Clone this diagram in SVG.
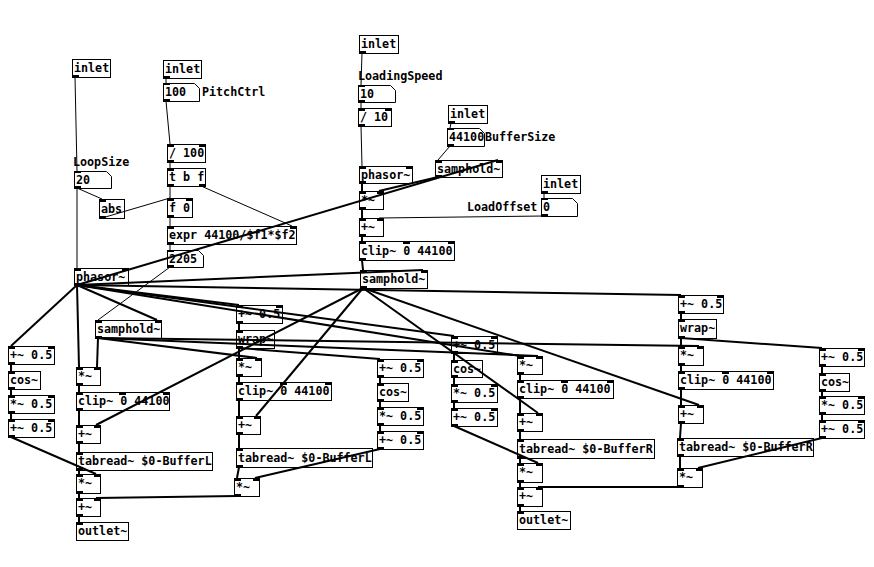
<svg xmlns="http://www.w3.org/2000/svg" width="874" height="567" viewBox="0 0 874 567">
<style>
.b{fill:none;stroke:#000;stroke-width:1}
.io{fill:#000}
.t{font-family:"DejaVu Sans Mono","Liberation Mono",monospace;font-size:11.7px;font-weight:bold;fill:#000}
.s{stroke:#000;stroke-width:2;fill:none}
.c{stroke:#000;stroke-width:1;fill:none}
</style>
<rect width="874" height="567" fill="#fff"/>
<g id="connectors">
<g class="c">
<line x1="75" y1="77" x2="77" y2="171"/>
<line x1="77" y1="188" x2="77" y2="268"/>
<line x1="77" y1="188" x2="102" y2="199"/>
<line x1="102" y1="218" x2="170" y2="198"/>
<line x1="166" y1="78" x2="166" y2="83"/>
<line x1="166" y1="101" x2="170" y2="144"/>
<line x1="170" y1="162" x2="170" y2="168"/>
<line x1="170" y1="186" x2="170" y2="198"/>
<line x1="201" y1="186" x2="292" y2="226"/>
<line x1="170" y1="217" x2="170" y2="226"/>
<line x1="170" y1="244" x2="170" y2="250"/>
<line x1="170" y1="267" x2="98" y2="320"/>
<line x1="362" y1="53" x2="361" y2="85"/>
<line x1="361" y1="102" x2="361" y2="108"/>
<line x1="361" y1="126" x2="362" y2="166"/>
<line x1="451" y1="123" x2="450" y2="128"/>
<line x1="450" y1="146" x2="438" y2="160"/>
<line x1="544" y1="193" x2="544" y2="198"/>
<line x1="544" y1="216" x2="379" y2="218"/>
</g>
<g class="s">
<line x1="362" y1="183" x2="362" y2="191"/>
<line x1="438" y1="177" x2="379" y2="191"/>
<line x1="362" y1="209" x2="362" y2="218"/>
<line x1="362" y1="236" x2="362" y2="241"/>
<line x1="362" y1="260" x2="363" y2="270"/>
<line x1="77" y1="285" x2="498" y2="160"/>
<line x1="77" y1="285" x2="423" y2="270"/>
<line x1="77" y1="285" x2="11" y2="346"/>
<line x1="77" y1="285" x2="79" y2="367"/>
<line x1="77" y1="285" x2="157" y2="320"/>
<line x1="77" y1="285" x2="239" y2="305"/>
<line x1="77" y1="285" x2="454" y2="336"/>
<line x1="77" y1="285" x2="520" y2="356"/>
<line x1="77" y1="285" x2="681" y2="295"/>
<line x1="98" y1="338" x2="97" y2="367"/>
<line x1="98" y1="338" x2="257" y2="358"/>
<line x1="98" y1="338" x2="538" y2="356"/>
<line x1="98" y1="338" x2="699" y2="346"/>
<line x1="363" y1="288" x2="96" y2="425"/>
<line x1="363" y1="288" x2="256" y2="416"/>
<line x1="363" y1="288" x2="538" y2="413"/>
<line x1="363" y1="288" x2="699" y2="405"/>
<line x1="11" y1="364" x2="11" y2="371"/>
<line x1="11" y1="389" x2="11" y2="395"/>
<line x1="11" y1="413" x2="11" y2="419"/>
<line x1="11" y1="437" x2="96" y2="474"/>
<line x1="79" y1="385" x2="79" y2="392"/>
<line x1="79" y1="410" x2="79" y2="425"/>
<line x1="79" y1="443" x2="79" y2="452"/>
<line x1="79" y1="470" x2="79" y2="474"/>
<line x1="79" y1="493" x2="79" y2="498"/>
<line x1="79" y1="516" x2="79" y2="522"/>
<line x1="237" y1="496" x2="96" y2="498"/>
<line x1="239" y1="323" x2="239" y2="330"/>
<line x1="239" y1="348" x2="239" y2="358"/>
<line x1="239" y1="348" x2="380" y2="359"/>
<line x1="239" y1="376" x2="239" y2="382"/>
<line x1="239" y1="400" x2="239" y2="416"/>
<line x1="239" y1="434" x2="239" y2="448"/>
<line x1="239" y1="467" x2="237" y2="478"/>
<line x1="380" y1="377" x2="380" y2="383"/>
<line x1="380" y1="401" x2="380" y2="407"/>
<line x1="380" y1="425" x2="380" y2="431"/>
<line x1="380" y1="449" x2="255" y2="478"/>
<line x1="454" y1="353" x2="454" y2="360"/>
<line x1="454" y1="377" x2="454" y2="384"/>
<line x1="454" y1="402" x2="454" y2="408"/>
<line x1="454" y1="426" x2="538" y2="463"/>
<line x1="520" y1="374" x2="520" y2="380"/>
<line x1="520" y1="398" x2="520" y2="413"/>
<line x1="520" y1="431" x2="520" y2="439"/>
<line x1="520" y1="458" x2="520" y2="463"/>
<line x1="520" y1="482" x2="520" y2="487"/>
<line x1="520" y1="506" x2="520" y2="511"/>
<line x1="680" y1="487" x2="538" y2="487"/>
<line x1="681" y1="313" x2="681" y2="319"/>
<line x1="681" y1="338" x2="681" y2="346"/>
<line x1="681" y1="338" x2="822" y2="348"/>
<line x1="681" y1="365" x2="681" y2="371"/>
<line x1="681" y1="389" x2="681" y2="405"/>
<line x1="681" y1="423" x2="680" y2="438"/>
<line x1="680" y1="456" x2="680" y2="468"/>
<line x1="822" y1="366" x2="822" y2="373"/>
<line x1="822" y1="391" x2="822" y2="396"/>
<line x1="822" y1="414" x2="822" y2="420"/>
<line x1="822" y1="438" x2="698" y2="468"/>
</g>
</g>

<g id="b1"><rect class="b" x="72.5" y="59.5" width="38" height="18"/><rect class="io" x="72" y="75" width="7" height="3"/><text class="t" x="74" y="72">inlet</text></g>
<g id="b2"><rect class="b" x="163.5" y="60.5" width="38" height="18"/><rect class="io" x="163" y="76" width="7" height="3"/><text class="t" x="165" y="73">inlet</text></g>
<g id="b3"><path class="b" d="M163.5,83.5H194.5L199.5,88.5V101.5H163.5Z"/><rect class="io" x="163" y="83" width="7" height="2"/><rect class="io" x="163" y="99" width="7" height="3"/><text class="t" x="165" y="96">100</text><text class="t" x="202" y="96">PitchCtrl</text></g>
<g id="b4"><rect class="b" x="167.5" y="144.5" width="38" height="18"/><rect class="io" x="167" y="144" width="7" height="3"/><rect class="io" x="199" y="144" width="7" height="3"/><rect class="io" x="167" y="160" width="7" height="3"/><text class="t" x="169" y="157">/ 100</text></g>
<g id="b5"><rect class="b" x="167.5" y="168.5" width="38" height="18"/><rect class="io" x="167" y="168" width="7" height="3"/><rect class="io" x="167" y="184" width="7" height="3"/><rect class="io" x="199" y="184" width="7" height="3"/><text class="t" x="169" y="181">t b f</text></g>
<g id="b6"><path class="b" d="M74.5,171.5H106.5L111.5,176.5V188.5H74.5Z"/><rect class="io" x="74" y="171" width="7" height="2"/><rect class="io" x="74" y="186" width="7" height="3"/><text class="t" x="76" y="184">20</text><text class="t" x="73" y="166">LoopSize</text></g>
<g id="b7"><rect class="b" x="99.5" y="199.5" width="25" height="19"/><rect class="io" x="99" y="199" width="7" height="3"/><rect class="io" x="99" y="216" width="7" height="3"/><text class="t" x="101" y="213">abs</text></g>
<g id="b8"><rect class="b" x="167.5" y="198.5" width="25" height="19"/><rect class="io" x="167" y="198" width="7" height="3"/><rect class="io" x="186" y="198" width="7" height="3"/><rect class="io" x="167" y="215" width="7" height="3"/><text class="t" x="169" y="212">f 0</text></g>
<g id="b9"><rect class="b" x="167.5" y="226.5" width="129" height="18"/><rect class="io" x="167" y="226" width="7" height="3"/><rect class="io" x="290" y="226" width="7" height="3"/><rect class="io" x="167" y="242" width="7" height="3"/><text class="t" x="169" y="239">expr 44100/$f1*$f2</text></g>
<g id="b10"><path class="b" d="M167.5,250.5H198.5L203.5,255.5V267.5H167.5Z"/><rect class="io" x="167" y="250" width="7" height="2"/><rect class="io" x="167" y="265" width="7" height="3"/><text class="t" x="169" y="263">2205</text></g>
<g id="b11"><rect class="b" x="74.5" y="268.5" width="54" height="17"/><rect class="io" x="74" y="268" width="7" height="3"/><rect class="io" x="122" y="268" width="7" height="3"/><rect class="io" x="74" y="283" width="7" height="3"/><text class="t" x="76" y="281">phasor~</text></g>
<g id="b12"><rect class="b" x="359.5" y="35.5" width="39" height="18"/><rect class="io" x="359" y="51" width="7" height="3"/><text class="t" x="361" y="48">inlet</text></g>
<g id="b13"><path class="b" d="M358.5,85.5H390.5L395.5,90.5V102.5H358.5Z"/><rect class="io" x="358" y="85" width="7" height="2"/><rect class="io" x="358" y="100" width="7" height="3"/><text class="t" x="360" y="98">10</text><text class="t" x="358" y="80">LoadingSpeed</text></g>
<g id="b14"><rect class="b" x="358.5" y="108.5" width="33" height="18"/><rect class="io" x="358" y="108" width="7" height="3"/><rect class="io" x="385" y="108" width="7" height="3"/><rect class="io" x="358" y="124" width="7" height="3"/><text class="t" x="360" y="121">/ 10</text></g>
<g id="b15"><rect class="b" x="359.5" y="166.5" width="53" height="17"/><rect class="io" x="359" y="166" width="7" height="3"/><rect class="io" x="406" y="166" width="7" height="3"/><rect class="io" x="359" y="181" width="7" height="3"/><text class="t" x="361" y="179">phasor~</text></g>
<g id="b16"><rect class="b" x="359.5" y="191.5" width="24" height="18"/><rect class="io" x="359" y="191" width="7" height="3"/><rect class="io" x="377" y="191" width="7" height="3"/><rect class="io" x="359" y="207" width="7" height="3"/><text class="t" x="361" y="204">*~</text></g>
<g id="b17"><rect class="b" x="359.5" y="218.5" width="24" height="18"/><rect class="io" x="359" y="218" width="7" height="3"/><rect class="io" x="377" y="218" width="7" height="3"/><rect class="io" x="359" y="234" width="7" height="3"/><text class="t" x="361" y="231">+~</text></g>
<g id="b18"><rect class="b" x="359.5" y="241.5" width="95" height="19"/><rect class="io" x="359" y="241" width="7" height="3"/><rect class="io" x="403" y="241" width="7" height="3"/><rect class="io" x="448" y="241" width="7" height="3"/><rect class="io" x="359" y="258" width="7" height="3"/><text class="t" x="361" y="255">clip~ 0 44100</text></g>
<g id="b19"><rect class="b" x="360.5" y="270.5" width="67" height="18"/><rect class="io" x="360" y="270" width="7" height="3"/><rect class="io" x="421" y="270" width="7" height="3"/><rect class="io" x="360" y="286" width="7" height="3"/><text class="t" x="362" y="283">samphold~</text></g>
<g id="b20"><rect class="b" x="448.5" y="105.5" width="39" height="18"/><rect class="io" x="448" y="121" width="7" height="3"/><text class="t" x="450" y="118">inlet</text></g>
<g id="b21"><path class="b" d="M447.5,128.5H479.5L484.5,133.5V146.5H447.5Z"/><rect class="io" x="447" y="128" width="7" height="2"/><rect class="io" x="447" y="144" width="7" height="3"/><text class="t" x="449" y="141">44100</text><text class="t" x="485" y="141">BufferSize</text></g>
<g id="b22"><rect class="b" x="435.5" y="160.5" width="67" height="17"/><rect class="io" x="435" y="160" width="7" height="3"/><rect class="io" x="496" y="160" width="7" height="3"/><rect class="io" x="435" y="175" width="7" height="3"/><text class="t" x="437" y="173">samphold~</text></g>
<g id="b23"><rect class="b" x="541.5" y="175.5" width="39" height="18"/><rect class="io" x="541" y="191" width="7" height="3"/><text class="t" x="543" y="188">inlet</text></g>
<g id="b24"><path class="b" d="M541.5,198.5H572.5L577.5,203.5V216.5H541.5Z"/><rect class="io" x="541" y="198" width="7" height="2"/><rect class="io" x="541" y="214" width="7" height="3"/><text class="t" x="543" y="211">0</text><text class="t" x="467" y="211">LoadOffset</text></g>

<g id="c1"><rect class="b" x="8.5" y="346.5" width="46" height="18"/><rect class="io" x="8" y="346" width="7" height="3"/><rect class="io" x="48" y="346" width="7" height="3"/><rect class="io" x="8" y="362" width="7" height="3"/><text class="t" x="10" y="359">+~ 0.5</text></g>
<g id="c2"><rect class="b" x="8.5" y="371.5" width="32" height="18"/><rect class="io" x="8" y="371" width="7" height="3"/><rect class="io" x="8" y="387" width="7" height="3"/><text class="t" x="10" y="384">cos~</text></g>
<g id="c3"><rect class="b" x="8.5" y="395.5" width="46" height="18"/><rect class="io" x="8" y="395" width="7" height="3"/><rect class="io" x="48" y="395" width="7" height="3"/><rect class="io" x="8" y="411" width="7" height="3"/><text class="t" x="10" y="408">*~ 0.5</text></g>
<g id="c4"><rect class="b" x="8.5" y="419.5" width="46" height="18"/><rect class="io" x="8" y="419" width="7" height="3"/><rect class="io" x="48" y="419" width="7" height="3"/><rect class="io" x="8" y="435" width="7" height="3"/><text class="t" x="10" y="432">+~ 0.5</text></g>
<g id="c5"><rect class="b" x="95.5" y="320.5" width="66" height="18"/><rect class="io" x="95" y="320" width="7" height="3"/><rect class="io" x="155" y="320" width="7" height="3"/><rect class="io" x="95" y="336" width="7" height="3"/><text class="t" x="97" y="333">samphold~</text></g>
<g id="c6"><rect class="b" x="76.5" y="367.5" width="24" height="18"/><rect class="io" x="76" y="367" width="7" height="3"/><rect class="io" x="94" y="367" width="7" height="3"/><rect class="io" x="76" y="383" width="7" height="3"/><text class="t" x="78" y="380">*~</text></g>
<g id="c7"><rect class="b" x="76.5" y="392.5" width="93" height="18"/><rect class="io" x="76" y="392" width="7" height="3"/><rect class="io" x="119" y="392" width="7" height="3"/><rect class="io" x="163" y="392" width="7" height="3"/><rect class="io" x="76" y="408" width="7" height="3"/><text class="t" x="78" y="405">clip~ 0 44100</text></g>
<g id="c8"><rect class="b" x="76.5" y="425.5" width="24" height="18"/><rect class="io" x="76" y="425" width="7" height="3"/><rect class="io" x="94" y="425" width="7" height="3"/><rect class="io" x="76" y="441" width="7" height="3"/><text class="t" x="78" y="438">+~</text></g>
<g id="c9"><rect class="b" x="76.5" y="452.5" width="136" height="18"/><rect class="io" x="76" y="452" width="7" height="3"/><rect class="io" x="76" y="468" width="7" height="3"/><text class="t" x="78" y="465">tabread~ $0-BufferL</text></g>
<g id="c10"><rect class="b" x="76.5" y="474.5" width="24" height="19"/><rect class="io" x="76" y="474" width="7" height="3"/><rect class="io" x="94" y="474" width="7" height="3"/><rect class="io" x="76" y="491" width="7" height="3"/><text class="t" x="78" y="487">*~</text></g>
<g id="c11"><rect class="b" x="76.5" y="498.5" width="24" height="18"/><rect class="io" x="76" y="498" width="7" height="3"/><rect class="io" x="94" y="498" width="7" height="3"/><rect class="io" x="76" y="514" width="7" height="3"/><text class="t" x="78" y="511">+~</text></g>
<g id="c12"><rect class="b" x="76.5" y="522.5" width="52" height="18"/><rect class="io" x="76" y="522" width="7" height="3"/><text class="t" x="78" y="535">outlet~</text></g>

<g id="d1"><rect class="b" x="236.5" y="305.5" width="46" height="18"/><rect class="io" x="236" y="305" width="7" height="3"/><rect class="io" x="276" y="305" width="7" height="3"/><rect class="io" x="236" y="321" width="7" height="3"/><text class="t" x="238" y="318">+~ 0.5</text></g>
<g id="d2"><rect class="b" x="236.5" y="330.5" width="38" height="18"/><rect class="io" x="236" y="330" width="7" height="3"/><rect class="io" x="236" y="346" width="7" height="3"/><text class="t" x="238" y="343">wrap~</text></g>
<g id="d3"><rect class="b" x="236.5" y="358.5" width="25" height="18"/><rect class="io" x="236" y="358" width="7" height="3"/><rect class="io" x="255" y="358" width="7" height="3"/><rect class="io" x="236" y="374" width="7" height="3"/><text class="t" x="238" y="371">*~</text></g>
<g id="d4"><rect class="b" x="236.5" y="382.5" width="95" height="18"/><rect class="io" x="236" y="382" width="7" height="3"/><rect class="io" x="280" y="382" width="7" height="3"/><rect class="io" x="325" y="382" width="7" height="3"/><rect class="io" x="236" y="398" width="7" height="3"/><text class="t" x="238" y="395">clip~ 0 44100</text></g>
<g id="d5"><rect class="b" x="236.5" y="416.5" width="24" height="18"/><rect class="io" x="236" y="416" width="7" height="3"/><rect class="io" x="254" y="416" width="7" height="3"/><rect class="io" x="236" y="432" width="7" height="3"/><text class="t" x="238" y="429">+~</text></g>
<g id="d6"><rect class="b" x="236.5" y="448.5" width="136" height="19"/><rect class="io" x="236" y="448" width="7" height="3"/><rect class="io" x="236" y="465" width="7" height="3"/><text class="t" x="238" y="462">tabread~ $0-BufferL</text></g>
<g id="d7"><rect class="b" x="234.5" y="478.5" width="25" height="18"/><rect class="io" x="234" y="478" width="7" height="3"/><rect class="io" x="253" y="478" width="7" height="3"/><rect class="io" x="234" y="494" width="7" height="3"/><text class="t" x="236" y="491">*~</text></g>
<g id="d8"><rect class="b" x="377.5" y="359.5" width="46" height="18"/><rect class="io" x="377" y="359" width="7" height="3"/><rect class="io" x="417" y="359" width="7" height="3"/><rect class="io" x="377" y="375" width="7" height="3"/><text class="t" x="379" y="372">+~ 0.5</text></g>
<g id="d9"><rect class="b" x="377.5" y="383.5" width="31" height="18"/><rect class="io" x="377" y="383" width="7" height="3"/><rect class="io" x="377" y="399" width="7" height="3"/><text class="t" x="379" y="396">cos~</text></g>
<g id="d10"><rect class="b" x="377.5" y="407.5" width="46" height="18"/><rect class="io" x="377" y="407" width="7" height="3"/><rect class="io" x="417" y="407" width="7" height="3"/><rect class="io" x="377" y="423" width="7" height="3"/><text class="t" x="379" y="420">*~ 0.5</text></g>
<g id="d11"><rect class="b" x="377.5" y="431.5" width="46" height="18"/><rect class="io" x="377" y="431" width="7" height="3"/><rect class="io" x="417" y="431" width="7" height="3"/><rect class="io" x="377" y="447" width="7" height="3"/><text class="t" x="379" y="444">+~ 0.5</text></g>

<g id="e1"><rect class="b" x="451.5" y="336.5" width="46" height="17"/><rect class="io" x="451" y="336" width="7" height="3"/><rect class="io" x="491" y="336" width="7" height="3"/><rect class="io" x="451" y="351" width="7" height="3"/><text class="t" x="453" y="349">+~ 0.5</text></g>
<g id="e2"><rect class="b" x="451.5" y="360.5" width="31" height="17"/><rect class="io" x="451" y="360" width="7" height="3"/><rect class="io" x="451" y="375" width="7" height="3"/><text class="t" x="453" y="373">cos~</text></g>
<g id="e3"><rect class="b" x="451.5" y="384.5" width="46" height="18"/><rect class="io" x="451" y="384" width="7" height="3"/><rect class="io" x="491" y="384" width="7" height="3"/><rect class="io" x="451" y="400" width="7" height="3"/><text class="t" x="453" y="397">*~ 0.5</text></g>
<g id="e4"><rect class="b" x="451.5" y="408.5" width="46" height="18"/><rect class="io" x="451" y="408" width="7" height="3"/><rect class="io" x="491" y="408" width="7" height="3"/><rect class="io" x="451" y="424" width="7" height="3"/><text class="t" x="453" y="421">+~ 0.5</text></g>
<g id="e5"><rect class="b" x="517.5" y="356.5" width="25" height="18"/><rect class="io" x="517" y="356" width="7" height="3"/><rect class="io" x="536" y="356" width="7" height="3"/><rect class="io" x="517" y="372" width="7" height="3"/><text class="t" x="519" y="369">*~</text></g>
<g id="e6"><rect class="b" x="517.5" y="380.5" width="96" height="18"/><rect class="io" x="517" y="380" width="7" height="3"/><rect class="io" x="561" y="380" width="7" height="3"/><rect class="io" x="607" y="380" width="7" height="3"/><rect class="io" x="517" y="396" width="7" height="3"/><text class="t" x="519" y="393">clip~ 0 44100</text></g>
<g id="e7"><rect class="b" x="517.5" y="413.5" width="25" height="18"/><rect class="io" x="517" y="413" width="7" height="3"/><rect class="io" x="536" y="413" width="7" height="3"/><rect class="io" x="517" y="429" width="7" height="3"/><text class="t" x="519" y="426">+~</text></g>
<g id="e8"><rect class="b" x="517.5" y="439.5" width="137" height="19"/><rect class="io" x="517" y="439" width="7" height="3"/><rect class="io" x="517" y="456" width="7" height="3"/><text class="t" x="519" y="453">tabread~ $0-BufferR</text></g>
<g id="e9"><rect class="b" x="517.5" y="463.5" width="25" height="19"/><rect class="io" x="517" y="463" width="7" height="3"/><rect class="io" x="536" y="463" width="7" height="3"/><rect class="io" x="517" y="480" width="7" height="3"/><text class="t" x="519" y="476">*~</text></g>
<g id="e10"><rect class="b" x="517.5" y="487.5" width="25" height="19"/><rect class="io" x="517" y="487" width="7" height="3"/><rect class="io" x="536" y="487" width="7" height="3"/><rect class="io" x="517" y="504" width="7" height="3"/><text class="t" x="519" y="500">+~</text></g>
<g id="e11"><rect class="b" x="517.5" y="511.5" width="53" height="18"/><rect class="io" x="517" y="511" width="7" height="3"/><text class="t" x="519" y="524">outlet~</text></g>

<g id="f1"><rect class="b" x="678.5" y="295.5" width="45" height="18"/><rect class="io" x="678" y="295" width="7" height="3"/><rect class="io" x="717" y="295" width="7" height="3"/><rect class="io" x="678" y="311" width="7" height="3"/><text class="t" x="680" y="308">+~ 0.5</text></g>
<g id="f2"><rect class="b" x="678.5" y="319.5" width="38" height="19"/><rect class="io" x="678" y="319" width="7" height="3"/><rect class="io" x="678" y="336" width="7" height="3"/><text class="t" x="680" y="332">wrap~</text></g>
<g id="f3"><rect class="b" x="678.5" y="346.5" width="25" height="19"/><rect class="io" x="678" y="346" width="7" height="3"/><rect class="io" x="697" y="346" width="7" height="3"/><rect class="io" x="678" y="363" width="7" height="3"/><text class="t" x="680" y="359">*~</text></g>
<g id="f4"><rect class="b" x="678.5" y="371.5" width="95" height="18"/><rect class="io" x="678" y="371" width="7" height="3"/><rect class="io" x="722" y="371" width="7" height="3"/><rect class="io" x="767" y="371" width="7" height="3"/><rect class="io" x="678" y="387" width="7" height="3"/><text class="t" x="680" y="384">clip~ 0 44100</text></g>
<g id="f5"><rect class="b" x="678.5" y="405.5" width="25" height="18"/><rect class="io" x="678" y="405" width="7" height="3"/><rect class="io" x="697" y="405" width="7" height="3"/><rect class="io" x="678" y="421" width="7" height="3"/><text class="t" x="680" y="418">+~</text></g>
<g id="f6"><rect class="b" x="677.5" y="438.5" width="136" height="18"/><rect class="io" x="677" y="438" width="7" height="3"/><rect class="io" x="677" y="454" width="7" height="3"/><text class="t" x="679" y="451">tabread~ $0-BufferR</text></g>
<g id="f7"><rect class="b" x="677.5" y="468.5" width="25" height="19"/><rect class="io" x="677" y="468" width="7" height="3"/><rect class="io" x="696" y="468" width="7" height="3"/><rect class="io" x="677" y="485" width="7" height="3"/><text class="t" x="679" y="481">*~</text></g>
<g id="f8"><rect class="b" x="819.5" y="348.5" width="45" height="18"/><rect class="io" x="819" y="348" width="7" height="3"/><rect class="io" x="858" y="348" width="7" height="3"/><rect class="io" x="819" y="364" width="7" height="3"/><text class="t" x="821" y="361">+~ 0.5</text></g>
<g id="f9"><rect class="b" x="819.5" y="373.5" width="30" height="18"/><rect class="io" x="819" y="373" width="7" height="3"/><rect class="io" x="819" y="389" width="7" height="3"/><text class="t" x="821" y="386">cos~</text></g>
<g id="f10"><rect class="b" x="819.5" y="396.5" width="45" height="18"/><rect class="io" x="819" y="396" width="7" height="3"/><rect class="io" x="858" y="396" width="7" height="3"/><rect class="io" x="819" y="412" width="7" height="3"/><text class="t" x="821" y="409">*~ 0.5</text></g>
<g id="f11"><rect class="b" x="819.5" y="420.5" width="45" height="18"/><rect class="io" x="819" y="420" width="7" height="3"/><rect class="io" x="858" y="420" width="7" height="3"/><rect class="io" x="819" y="436" width="7" height="3"/><text class="t" x="821" y="433">+~ 0.5</text></g>
</svg>
